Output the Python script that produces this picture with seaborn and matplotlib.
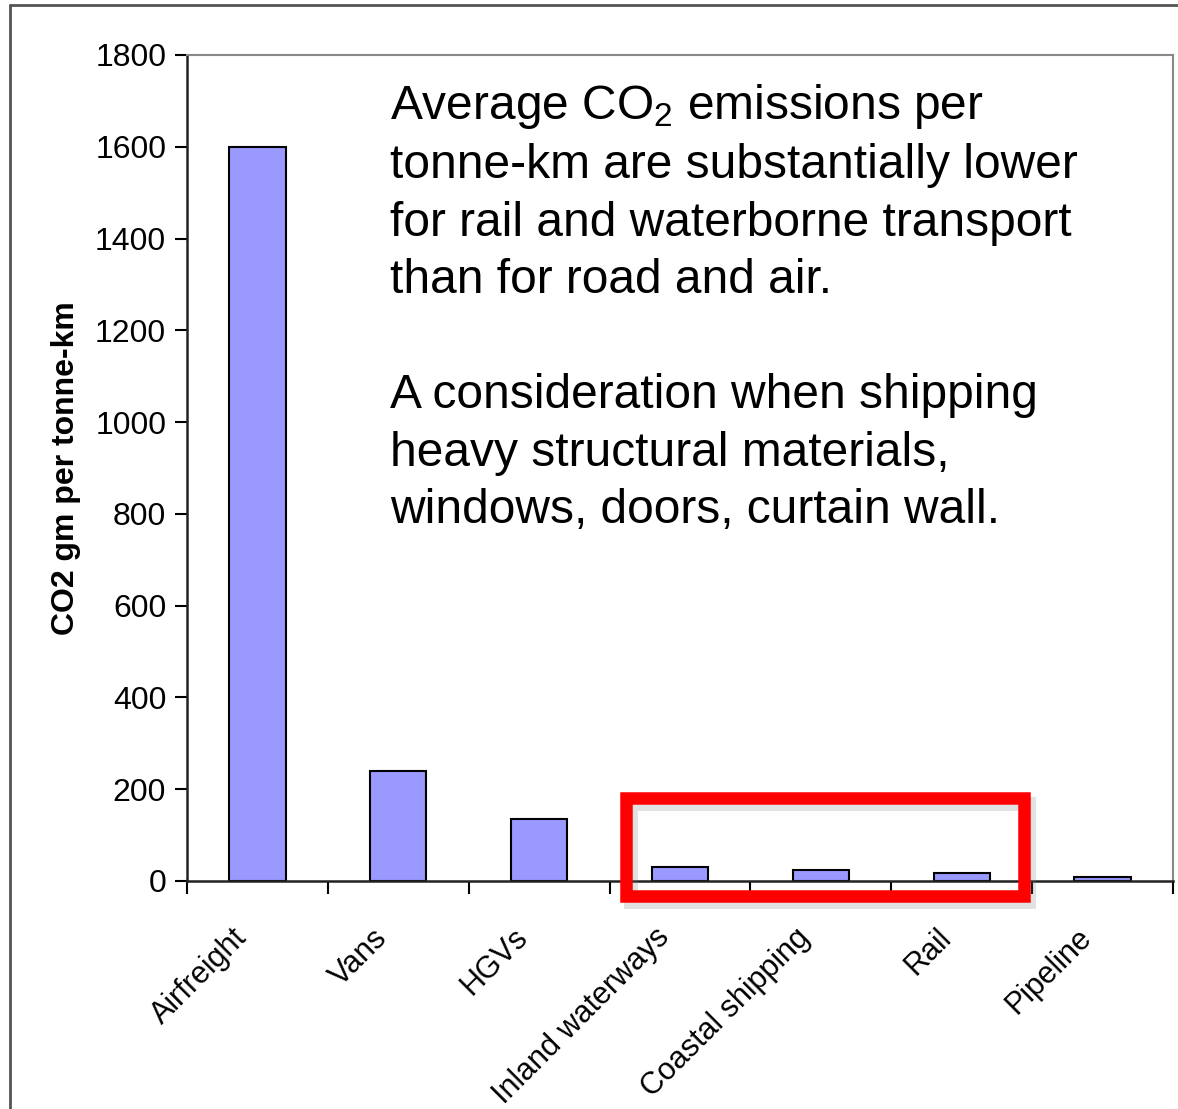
import matplotlib.pyplot as plt
import matplotlib.transforms as mtransforms
import seaborn as sns
import pandas as pd
from matplotlib.patches import Rectangle
from matplotlib.lines import Line2D

# Data
modes = ['Airfreight', 'Vans', 'HGVs', 'Inland waterways',
         'Coastal shipping', 'Rail', 'Pipeline']
co2 = [1600, 240, 135, 30, 25, 17, 8]
yticks = [0, 200, 400, 600, 800, 1000, 1200, 1400, 1600, 1800]

df = pd.DataFrame({'mode': modes, 'co2': co2})

sns.set_style('white')
plt.rcParams['font.family'] = ['Liberation Sans', 'DejaVu Sans']
plt.rcParams['text.color'] = 'black'
plt.rcParams['axes.labelcolor'] = 'black'
plt.rcParams['xtick.color'] = 'black'
plt.rcParams['ytick.color'] = 'black'

fig = plt.figure(figsize=(11.78, 11.09), dpi=100)
ax = fig.add_axes([187 / 1178, 1 - 881 / 1109, (1173 - 187) / 1178, (881 - 55) / 1109])

sns.barplot(data=df, x='mode', y='co2', color='#9999FF', saturation=1,
            width=0.4, edgecolor='black', linewidth=1.5, ax=ax)

ax.set_xlim(-0.5, len(modes) - 0.5)
ax.set_ylim(0, 1800)
ax.set_yticks(yticks)
ax.tick_params(axis='y', labelsize=23, length=9, width=1.5, direction='out',
               left=True, pad=6)
# x ticks sit at category boundaries
ax.set_xticks([i - 0.5 for i in range(len(modes) + 1)], minor=True)
ax.set_xticks(range(len(modes)))
ax.set_xticklabels(modes, rotation=45, ha='right', rotation_mode='anchor',
                   fontsize=22)
ax.tick_params(axis='x', which='major', length=0, pad=30)
ax.tick_params(axis='x', which='minor', length=9, width=1.5, direction='out',
               bottom=True)
shift = mtransforms.ScaledTranslation(-26 / 100, 0, fig.dpi_scale_trans)
for lbl in ax.get_xticklabels():
    lbl.set_transform(lbl.get_transform() + shift)
ax.set_xlabel('')
ax.set_ylabel('CO2 gm per tonne-km', fontsize=23, fontweight='bold', labelpad=10)

for side in ['top', 'right']:
    ax.spines[side].set_color('#888888')
    ax.spines[side].set_linewidth(1.5)
for side in ['left', 'bottom']:
    ax.spines[side].set_color('#222222')
    ax.spines[side].set_linewidth(1.8)

# highlight box around the low-emission modes (with soft shadow)
box = (2.615, -32)
shadow = mtransforms.ScaledTranslation(5 / 100, -6 / 100, fig.dpi_scale_trans)
ax.add_patch(Rectangle(box, 2.83, 212, fill=False, edgecolor='#777777',
                       linewidth=10, alpha=0.22, clip_on=False, zorder=4,
                       transform=ax.transData + shadow))
ax.add_patch(Rectangle(box, 2.83, 212, fill=False, edgecolor='#FF0000',
                       linewidth=9, clip_on=False, zorder=5))

# annotation text
note = ('Average CO$_{\\mathregular{2}}$ emissions per\n'
        'tonne-km are substantially lower\n'
        'for rail and waterborne transport\n'
        'than for road and air.\n\n'
        'A consideration when shipping\n'
        'heavy structural materials,\n'
        'windows, doors, curtain wall.')
fig.text(390 / 1178, 1 - 82 / 1109, note, fontsize=34.5, va='top', ha='left',
         linespacing=1.355)

# outer frame
fig.add_artist(Line2D([10 / 1178, 1.0], [1 - 5 / 1109, 1 - 5 / 1109],
                      color='#555555', linewidth=2))
fig.add_artist(Line2D([10 / 1178, 10 / 1178], [0, 1 - 5 / 1109],
                      color='#555555', linewidth=2))

fig.savefig('out.png', dpi=100)
